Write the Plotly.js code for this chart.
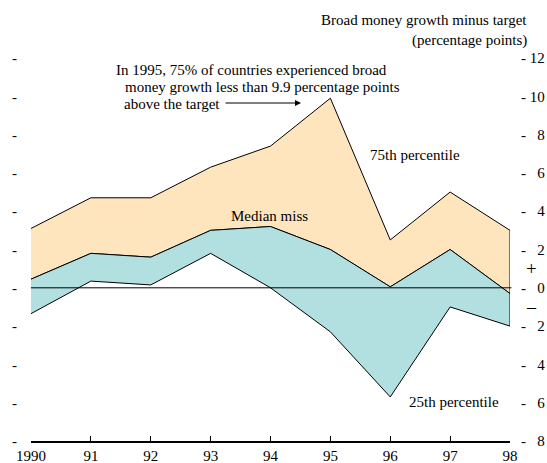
<!DOCTYPE html>
<html>
<head>
<meta charset="utf-8">
<script src="https://cdn.plot.ly/plotly-3.0.1.min.js"></script>
<style>html,body{margin:0;padding:0;background:#fff;}#chart{width:547px;height:463px;}</style>
</head>
<body>
<div id="chart"></div>
<script>
const years = [1990, 1991, 1992, 1993, 1994, 1995, 1996, 1997, 1998];
const yearLabels = ["1990", "91", "92", "93", "94", "95", "96", "97", "98"];
const p75 = [3.1, 4.7, 4.7, 6.3, 7.4, 9.9, 2.5, 5.0, 3.0];
const median = [0.45, 1.8, 1.6, 3.0, 3.2, 2.0, 0.05, 2.0, -0.3];
const p25 = [-1.35, 0.35, 0.15, 1.8, 0.0, -2.3, -5.7, -1.0, -2.0];
const yTicks = [-8, -6, -4, -2, 0, 2, 4, 6, 8, 10, 12];
const yTickText = ["8", "6", "4", "2", "0", "2", "4", "6", "8", "10", "12"];

const W = 547, H = 463;
const M = {l: 31, r: 37, t: 58, b: 22};
function px(x) { return (x - M.l) / (W - M.l - M.r); }
function py(y) { return (H - M.b - y) / (H - M.t - M.b); }

const rev = a => a.slice().reverse();
const font = "Liberation Serif";

const traces = [
  {
    x: years.concat(rev(years)),
    y: p75.concat(rev(median)),
    type: "scatter", mode: "lines", fill: "toself",
    fillcolor: "rgb(255,229,190)",
    line: {color: "#000", width: 1}, hoverinfo: "skip", showlegend: false
  },
  {
    x: years.concat(rev(years)),
    y: median.concat(rev(p25)),
    type: "scatter", mode: "lines", fill: "toself",
    fillcolor: "rgb(178,223,224)",
    line: {color: "#000", width: 1}, hoverinfo: "skip", showlegend: false
  },
  {
    x: years, y: median, type: "scatter", mode: "lines", yaxis: "y2",
    line: {color: "rgba(0,0,0,0)", width: 0}, hoverinfo: "skip", showlegend: false
  }
];

const ann = [
  {text: "Broad money growth minus target", x: px(529), y: py(20), xanchor: "right"},
  {text: "(percentage points)", x: px(529), y: py(40), xanchor: "right"},
  {text: "In 1995, 75% of countries experienced broad", x: px(114), y: py(70), xanchor: "left"},
  {text: "money growth less than 9.9 percentage points", x: px(123), y: py(87), xanchor: "left"},
  {text: "above the target", x: px(122), y: py(104), xanchor: "left"},
  {text: "75th percentile", x: px(368), y: py(155), xanchor: "left"},
  {text: "Median miss", x: px(229), y: py(216), xanchor: "left"},
  {text: "25th percentile", x: px(407), y: py(402), xanchor: "left"},
  {text: "+", x: px(531), y: py(268), xanchor: "center", font: {family: font, size: 19, color: "#000"}},
  {text: "\u2013", x: px(531), y: py(307), xanchor: "center", font: {family: font, size: 18, color: "#000"}}
].map(a => Object.assign({xref: "paper", yref: "paper", yanchor: "middle", showarrow: false,
  font: {family: font, size: 15, color: "#000"}}, a));

ann.push({
  xref: "paper", yref: "paper", axref: "paper", ayref: "paper",
  x: px(301), y: py(103), ax: px(224), ay: py(103),
  showarrow: true, arrowhead: 2, arrowsize: 1, arrowwidth: 1.2, arrowcolor: "#000", text: ""
});

const layout = {
  width: W, height: H,
  margin: M,
  paper_bgcolor: "#fff", plot_bgcolor: "#fff",
  showlegend: false,
  font: {family: font, size: 15, color: "#000"},
  xaxis: {
    range: [1990, 1998], tickvals: years, ticktext: yearLabels,
    showgrid: false, zeroline: false, showline: true, linecolor: "#000", linewidth: 2,
    ticks: "inside", ticklen: 5, tickwidth: 1, tickcolor: "#000",
    tickfont: {family: font, size: 15}, ticklabelstandoff: 0, fixedrange: true
  },
  yaxis: {
    range: [-8, 12], tickvals: yTicks, ticktext: yTicks.map(() => "-"),
    showgrid: false, zeroline: false,
    showline: false, ticks: "", ticklabelstandoff: 13,
    tickfont: {family: font, size: 15}, fixedrange: true
  },
  yaxis2: {
    range: [-8, 12], overlaying: "y", side: "right",
    tickvals: yTicks, ticktext: yTickText.map(t => t.length === 1 ? "-\u00a0\u2007" + t : "-\u00a0" + t),
    showgrid: false, zeroline: false, showline: false, ticks: "", ticklabelstandoff: 10,
    tickfont: {family: font, size: 15}, fixedrange: true
  },
  shapes: [{
    type: "line", layer: "above", xref: "paper", yref: "y",
    x0: 0, x1: 1.003, y0: 0, y1: 0, line: {color: "#000", width: 1}
  }],
  annotations: ann
};

Plotly.newPlot("chart", traces, layout, {staticPlot: true, displayModeBar: false});
</script>
</body>
</html>
